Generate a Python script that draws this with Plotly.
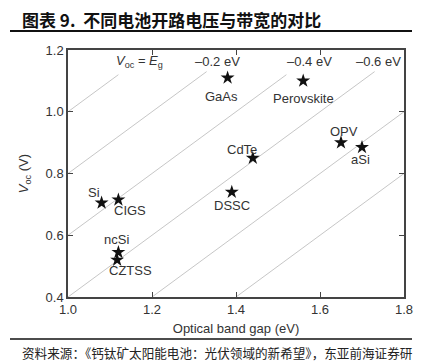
import plotly.graph_objects as go

# ---- data ----
materials = ["GaAs", "Perovskite", "OPV", "aSi", "CdTe", "DSSC", "Si", "CIGS", "ncSi", "CZTSS"]
band_gap = [1.38, 1.56, 1.65, 1.70, 1.44, 1.39, 1.08, 1.12, 1.12, 1.117]
voc = [1.11, 1.10, 0.90, 0.885, 0.85, 0.74, 0.705, 0.715, 0.545, 0.52]

loss_offsets = [0.0, -0.2, -0.4, -0.6, -0.8, -1.0]
loss_line_start = [1.0, 1.0, 1.0, 1.0, 1.2, 1.4]
loss_line_end = [1.12, 1.33, 1.52, 1.73, 1.8, 1.8]
loss_labels = ["<i>V</i><sub>oc</sub> = <i>E</i><sub>g</sub>", "\u20130.2 eV", "\u20130.4 eV", "\u20130.6 eV"]
loss_label_x = [1.17, 1.355, 1.575, 1.74]
loss_label_y = 1.163

x_ticks = [1.0, 1.2, 1.4, 1.6, 1.8]
y_ticks = [0.4, 0.6, 0.8, 1.0, 1.2]

title_text = "图表 9.&nbsp;&nbsp;不同电池开路电压与带宽的对比"
source_text = "资料来源：《钙钛矿太阳能电池：光伏领域的新希望》，东亚前海证券研"

# label offsets in pixels (style): (dx right, dy down) from the star centre
label_offsets = [(-6, 19), (0, 18), (3, -11), (-2, 12), (-11, -9),
                 (0, 13), (-8, -10), (12, 11), (-2, -13), (13, 11)]

FONT = "Liberation Sans, Arial, sans-serif"
CJK = "Noto Sans CJK SC"

# page is offset by the default 8px body margin
OFF = 8
W, H = 436 - OFF, 362 - OFF
ML, MR, MT, MB = 68 - OFF, 436 - 404, 50 - OFF, 362 - 297
pw, ph = W - ML - MR, H - MT - MB


def px(xp):
    return (xp - OFF - ML) / pw


def py(yp):
    return (H - MB - (yp - OFF)) / ph


fig = go.Figure()

for off, s, e in zip(loss_offsets, loss_line_start, loss_line_end):
    fig.add_trace(go.Scatter(
        x=[s, e], y=[s + off, e + off], mode="lines",
        line=dict(color="#b8b8b8", width=0.8), hoverinfo="skip", showlegend=False))

fig.add_trace(go.Scatter(
    x=band_gap, y=voc, mode="markers",
    marker=dict(symbol="star", size=10.5, color="#111111", line=dict(width=0)),
    showlegend=False, cliponaxis=False))

for name, gx, vy, (dx, dy) in zip(materials, band_gap, voc, label_offsets):
    fig.add_annotation(x=gx, y=vy, xref="x", yref="y", text=name, showarrow=False,
                       xshift=dx, yshift=-dy, xanchor="center", yanchor="middle",
                       font=dict(family=FONT, size=13, color="#333333"))

for t, lx in zip(loss_labels, loss_label_x):
    fig.add_annotation(x=lx, y=loss_label_y, xref="x", yref="y", text=t, showarrow=False,
                       font=dict(family=FONT, size=13, color="#333333"))

axis_common = dict(showline=True, linecolor="#444444", linewidth=1.5, mirror="ticks",
                   ticks="inside", ticklen=5, tickcolor="#444444", tickwidth=1,
                   showgrid=False, zeroline=False,
                   tickfont=dict(family=FONT, size=13, color="#333333"))

fig.update_xaxes(range=[1.0, 1.8], tickvals=x_ticks, ticktext=[f"{v:.1f}" for v in x_ticks],
                 title=dict(text="Optical band gap (eV)", font=dict(family=FONT, size=13, color="#333333"),
                            standoff=8), **axis_common)
fig.update_yaxes(range=[0.4, 1.2], tickvals=y_ticks, ticktext=[f"{v:.1f}" for v in y_ticks],
                 title=dict(text="<i>V</i><sub>oc</sub> (V)", font=dict(family=FONT, size=13, color="#333333"),
                            standoff=14), **axis_common)

fig.update_layout(
    width=W, height=H,
    margin=dict(l=ML, r=MR, t=MT, b=MB, autoexpand=False),
    paper_bgcolor="white", plot_bgcolor="white",
)

fig.add_annotation(x=px(20), y=py(20), xref="paper", yref="paper", text="<b>" + title_text + "</b>",
                   showarrow=False, xanchor="left", yanchor="middle",
                   font=dict(family=CJK, size=17, color="#111111"))
fig.add_shape(type="line", xref="paper", yref="paper", x0=px(10), x1=px(412), y0=py(31), y1=py(31),
              line=dict(color="#111111", width=2))
fig.add_shape(type="line", xref="paper", yref="paper", x0=px(431), x1=px(437), y0=py(31), y1=py(31),
              line=dict(color="#111111", width=2))
fig.add_shape(type="line", xref="paper", yref="paper", x0=px(10), x1=px(412), y0=py(339), y1=py(339),
              line=dict(color="#111111", width=1.5))
fig.add_shape(type="line", xref="paper", yref="paper", x0=px(431), x1=px(437), y0=py(339), y1=py(339),
              line=dict(color="#111111", width=1.5))
fig.add_annotation(x=px(20), y=py(352), xref="paper", yref="paper", text=source_text, showarrow=False,
                   xanchor="left", yanchor="middle", font=dict(family=CJK, size=12.6, color="#222222"))

fig.write_html("out.html")
